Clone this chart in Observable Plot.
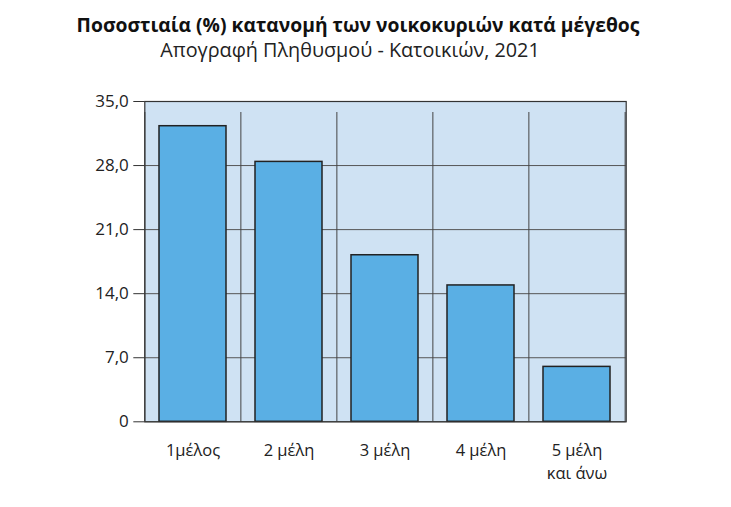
<!DOCTYPE html>
<html><head><meta charset="utf-8">
<script src="https://cdn.jsdelivr.net/npm/d3@7"></script>
<script src="https://cdn.jsdelivr.net/npm/@observablehq/plot@0.6"></script>
<style>
body{margin:0;background:#fff;font-family:"Open Sans",sans-serif;}
#head{height:70px;position:relative;width:731px;}
#t{position:absolute;top:13px;left:0;width:716px;text-align:center;font-weight:700;font-size:19.3px;line-height:24px;color:#111;white-space:nowrap;}
#s{position:absolute;top:38px;left:0;width:700px;text-align:center;font-weight:400;font-size:19.8px;line-height:24px;color:#222;white-space:nowrap;}
</style></head>
<body>
<div id="head"><div id="t">Ποσοστιαία (%) κατανομή των νοικοκυριών κατά μέγεθος</div><div id="s">Απογραφή Πληθυσμού - Κατοικιών, 2021</div></div>
<div id="chart"></div>
<script>
const categories = ["1", "2", "3", "4", "5+"];
const tickLabels = ["1μέλος", "2 μέλη", "3 μέλη", "4 μέλη", "5 μέλη\nκαι άνω"];
const values = [32.3, 28.4, 18.2, 14.9, 6.0];
const yTicks = [0, 7, 14, 21, 28, 35];

const data = categories.map((c, i) => ({cat: c, value: values[i]}));
const W = 731, H = 437, ML = 144.3, MR = 105.3, MT = 31, MB = 85.7;
const step = (W - ML - MR) / categories.length;

const chart = Plot.plot({
  width: W, height: H,
  marginTop: MT, marginBottom: MB, marginLeft: ML, marginRight: MR,
  x: {domain: categories, paddingInner: 0.3, paddingOuter: 0.15, axis: null, label: null},
  y: {domain: [0, 35], axis: null, label: null},
  style: {fontFamily: "'Open Sans', sans-serif", fontSize: "16px", color: "#222", background: "#fff"},
  marks: [
    Plot.frame({fill: "#cfe2f3"}),
    Plot.ruleY(yTicks, {stroke: "#555", strokeWidth: 1}),
    Plot.ruleX(categories, {x: d => d, dx: -step / 2, y1: 0, y2: 35, insetBottom: -11, stroke: "#444", strokeWidth: 1}),
    Plot.ruleX([categories[categories.length - 1]], {x: d => d, dx: step / 2, y1: 0, y2: 35, insetBottom: -11, stroke: "#444", strokeWidth: 1}),
    Plot.barY(data, {x: "cat", y: "value", fill: "#5aafe4", stroke: "#222", strokeWidth: 1.5}),
    Plot.axisY(yTicks, {tickSize: 11, tickPadding: 5, stroke: "#333", fontSize: 17, label: null,
      tickFormat: d => d === 0 ? "0" : d.toFixed(1).replace(".", ",")}),
    Plot.axisX({tickSize: 0, tickPadding: 18, fontSize: 16.5, lineHeight: 1.4, label: null,
      tickFormat: d => tickLabels[categories.indexOf(d)]}),
    Plot.frame({stroke: "#333", strokeWidth: 1.2})
  ]
});
document.getElementById("chart").appendChild(chart);
</script>
</body></html>
